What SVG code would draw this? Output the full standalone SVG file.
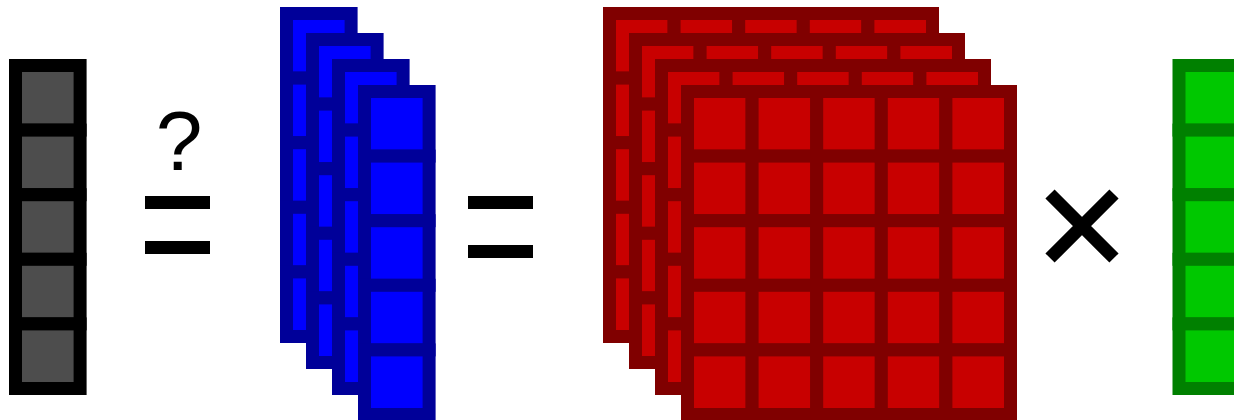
<svg xmlns="http://www.w3.org/2000/svg" xmlns:xlink="http://www.w3.org/1999/xlink" width="1234" height="420" viewBox="0 0 1234 420">
  <style>
    .k { fill: #4d4d4d; stroke: #000000; stroke-width: 13; }
    .b { fill: #0000ff; stroke: #000099; stroke-width: 13; }
    .r { fill: #c80000; stroke: #800000; stroke-width: 13; }
    .g { fill: #00c800; stroke: #008000; stroke-width: 13; }
    .op { fill: #000000; }
    .q { font-family: "Liberation Sans", Arial, sans-serif; font-size: 84px; fill: #000000; text-anchor: middle; }
  </style>
  <defs>
    <g id="col">
      <rect x="6.5" y="6.5" width="64.6" height="64.6"/>
      <rect x="6.5" y="71.1" width="64.6" height="64.6"/>
      <rect x="6.5" y="135.7" width="64.6" height="64.6"/>
      <rect x="6.5" y="200.3" width="64.6" height="64.6"/>
      <rect x="6.5" y="264.9" width="64.6" height="64.6"/>
    </g>
    <g id="grid">
      <use xlink:href="#col" x="0"/>
      <use xlink:href="#col" x="64.6"/>
      <use xlink:href="#col" x="129.2"/>
      <use xlink:href="#col" x="193.8"/>
      <use xlink:href="#col" x="258.4"/>
    </g>
  </defs>

  <g id="vector-output" class="k">
    <use xlink:href="#col" x="9" y="59"/>
  </g>

  <g id="question-equals">
    <text class="q" x="179" y="170">?</text>
    <rect class="op" x="145" y="196" width="65" height="13"/>
    <rect class="op" x="145" y="241" width="65" height="13"/>
  </g>

  <g id="vector-stack" class="b">
    <use xlink:href="#col" x="280" y="7"/>
    <use xlink:href="#col" x="306" y="33"/>
    <use xlink:href="#col" x="332" y="59"/>
    <use xlink:href="#col" x="358" y="85"/>
  </g>

  <g id="equals">
    <rect class="op" x="468" y="196" width="65" height="13"/>
    <rect class="op" x="468" y="245" width="65" height="13"/>
  </g>

  <g id="matrix-stack" class="r">
    <use xlink:href="#grid" x="603" y="7"/>
    <use xlink:href="#grid" x="629" y="33"/>
    <use xlink:href="#grid" x="655" y="59"/>
    <use xlink:href="#grid" x="681" y="85"/>
  </g>

  <g id="times">
    <path d="M1050 194 L1114 258 M1114 194 L1050 258" stroke="#000000" stroke-width="13" fill="none"/>
  </g>

  <g id="vector-input" class="g">
    <use xlink:href="#col" x="1172.5" y="59"/>
  </g>
</svg>
